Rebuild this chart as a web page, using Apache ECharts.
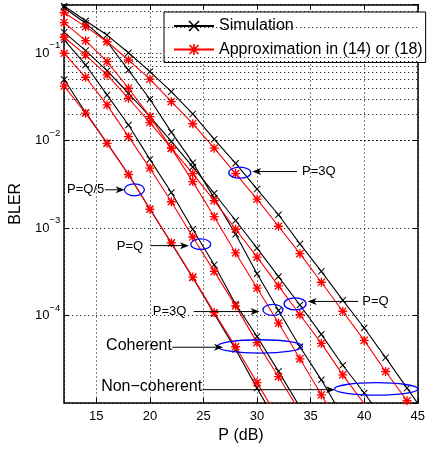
<!DOCTYPE html>
<html><head><meta charset="utf-8">
<script src="https://cdn.jsdelivr.net/npm/echarts@6/dist/echarts.min.js"></script>
<style>html,body{margin:0;padding:0;background:#fff}#c{width:428px;height:450px}</style>
</head><body><div id="c"></div>
<script>
// P (dB) sample points, every 2 dB (last entries continue just past the axis limits)
const snrDb = [12,14,16,18,20,22,24,26,28,30,32,34,36,38,40,42,44,46];

// Coherent, P=Q/5
const simCohQ5 = [0.05,0.021,0.0094,0.0041,1.65e-3,6.7e-4,2.7e-4,1.05e-4,4.1e-5,1.48e-5,5.5e-6];
const apxCohQ5 = [0.042,0.0206,0.0093,0.0041,1.64e-3,6.8e-4,2.75e-4,1.08e-4,4.4e-5,1.71e-5,6.6e-6];
// Coherent, P=Q
const simCohQ = [0.142,0.0733,0.0333,0.0151,6.1e-3,2.55e-3,9.7e-4,3.8e-4,1.35e-4,5.75e-5,2.3e-5,9e-6];
const apxCohQ = [0.0997,0.053,0.0256,0.0111,4.84e-3,2.0e-3,7.9e-4,3.2e-4,1.29e-4,4.9e-5,2.0e-5,8e-6];
// Coherent, P=3Q
const simCoh3Q = [0.33,0.22,0.135,0.064,0.0297,0.0125,5.6e-3,2.2e-3,8.5e-4,3.0e-4,1.14e-4,4.4e-5,1.84e-5,7e-6];
const apxCoh3Q = [0.223,0.139,0.08,0.0397,0.0188,8.2e-3,3.4e-3,1.35e-3,5.2e-4,2.06e-4,8.2e-5,3.2e-5,1.24e-5,4.8e-6];
// Non-coherent, P=Q
const simNcQ = [0.173,0.107,0.063,0.0348,0.0188,9.8e-3,5.0e-3,2.5e-3,1.22e-3,5.9e-4,2.79e-4,1.32e-4,6.1e-5,2.7e-5,1.3e-5,6e-6];
const apxNcQ = [0.152,0.095,0.0564,0.0305,0.0161,8.2e-3,4.2e-3,2.06e-3,9.7e-4,4.65e-4,2.18e-4,1.02e-4,4.8e-5,2.1e-5,9.8e-6,4.5e-6];
// Non-coherent, P=3Q
const simNc3Q = [0.346,0.235,0.161,0.101,0.0615,0.0363,0.0202,0.0104,5.5e-3,2.79e-3,1.42e-3,6.6e-4,3.2e-4,1.5e-4,7.2e-5,3.3e-5,1.48e-5,6.6e-6];
const apxNc3Q = [0.29,0.201,0.135,0.0836,0.0504,0.0279,0.0156,8.2e-3,4.2e-3,2.14e-3,1.05e-3,5.1e-4,2.4e-4,1.12e-4,5.2e-5,2.29e-5,1.06e-5,4.8e-6];

const simName = 'Simulation';
const apxName = 'Approximation in (14) or (18)';

// axis
const xMin = 12, xMax = 45;
const yMin = 1e-5, yMax = 0.36;
const minorGrid = [];
[-5,-4,-3,-2,-1].forEach(e => { for (let m = 2; m <= 9; m++) { const v = m * Math.pow(10, e); if (v < yMax) minorGrid.push(v); } });

// annotations (data coordinates)
const annoText   = ['P=3Q', 'P=Q/5', 'P=Q', 'P=3Q', 'Coherent', 'Non\u2212coherent', 'P=Q'];
const annoTextX  = [34.2, 12.27, 16.91, 20.27, 15.91, 15.45, 39.82];
const annoTextY  = [4.43e-3, 2.74e-3, 6.15e-4, 1.11e-4, 4.54e-5, 1.55e-5, 1.45e-4];
const arrowTailX = [33.73, 15.82, 20.09, 24.09, 22.09, 24.91, 39.45];
const arrowHeadX = [29.55, 17.64, 23.64, 30.23, 26.82, 37.27, 34.73];
const arrowY     = [4.43e-3, 2.74e-3, 6.3e-4, 1.11e-4, 4.34e-5, 1.42e-5, 1.45e-4];
const ellX       = [28.39, 18.55, 24.75, 31.48, 30.27, 41.12, 33.55];
const ellY       = [4.3e-3, 2.74e-3, 6.54e-4, 1.16e-4, 4.43e-5, 1.45e-5, 1.36e-4];
// styles for annotations
const ellRx = [11, 10, 10, 10, 42.5, 41.7, 11];
const ellRy = [5.5, 6, 5.3, 5.5, 6.7, 6.2, 6];
const annoFont = [13, 13, 13, 13, 16, 16, 13];

const FONT = '"Liberation Sans", Arial, Helvetica, sans-serif';
const xMarker = 'path://M1,0L5,4L9,0L10,1L6,5L10,9L9,10L5,6L1,10L0,9L4,5L0,1Z';
const starMarker = 'path://M8.5,0H11.5V20H8.5Z M0,8.5H20V11.5H0Z M0.94,3.06L3.06,0.94L19.06,16.94L16.94,19.06Z M16.94,0.94L19.06,3.06L3.06,19.06L0.94,16.94Z';

function pairs(arr) { return arr.map((v, i) => [snrDb[i], v]); }
function simSeries(arr) {
  return { type: 'line', name: simName, data: pairs(arr), symbol: xMarker, symbolSize: 7,
    lineStyle: { color: '#000', width: 1.1 }, itemStyle: { color: '#000' }, z: 3, clip: true };
}
function apxSeries(arr) {
  return { type: 'line', name: apxName, data: pairs(arr), symbol: starMarker, symbolSize: 9,
    lineStyle: { color: '#ff0000', width: 1.1 }, itemStyle: { color: '#ff0000' }, z: 4, clip: true };
}

function supLabel(v) {
  const e = Math.log10(v);
  const r = Math.round(e);
  if (Math.abs(e - r) > 1e-6) return '';
  return '{b|10}{s|' + (r < 0 ? '\u2212' : '') + Math.abs(r) + '}';
}

const chart = echarts.init(document.getElementById('c'), null, { renderer: 'canvas' });
const gridDash = { type: [1, 3], color: '#000', width: 1 };

chart.setOption({
  animation: false,
  backgroundColor: '#fff',
  textStyle: { fontFamily: FONT },
  grid: { left: 59, right: 6, top: 4.5, bottom: 47, containLabel: false },
  legend: {
    data: [simName, apxName], orient: 'vertical', left: 164, top: 12,
    backgroundColor: '#fff', borderColor: '#000', borderWidth: 1,
    padding: [6, 3, 5, 9], itemWidth: 40, itemHeight: 14, itemGap: 7.5,
    textStyle: { fontSize: 16, color: '#000', fontFamily: FONT }, selectedMode: false
  },
  xAxis: [{
    type: 'value', min: xMin, max: xMax, splitNumber: 7,
    name: 'P (dB)', nameLocation: 'middle', nameGap: 24,
    nameTextStyle: { fontSize: 16, color: '#000', fontFamily: FONT },
    axisLine: { show: true, onZero: false, lineStyle: { color: '#000', width: 1.5 } },
    axisTick: { inside: true, length: 5, lineStyle: { color: '#000', width: 1 } },
    axisLabel: { showMinLabel: false, fontSize: 13, color: '#000', margin: 7, fontFamily: FONT },
    splitLine: { show: true, lineStyle: gridDash }
  }, {
    type: 'value', min: xMin, max: xMax, splitNumber: 7, position: 'top',
    axisLine: { show: true, onZero: false, lineStyle: { color: '#000', width: 1.5 } },
    axisTick: { inside: true, length: 5, lineStyle: { color: '#000', width: 1 } },
    axisLabel: { show: false }, splitLine: { show: false }
  }],
  yAxis: [{
    type: 'log', logBase: 10, min: yMin, max: yMax,
    name: 'BLER', nameLocation: 'middle', nameGap: 31,
    nameTextStyle: { fontSize: 16, color: '#000', fontFamily: FONT },
    axisLine: { show: true, onZero: false, lineStyle: { color: '#000', width: 1.5 } },
    axisTick: { inside: true, length: 5, lineStyle: { color: '#000', width: 1 } },
    axisLabel: {
      showMinLabel: false, showMaxLabel: false, margin: 4, formatter: supLabel,
      rich: {
        b: { fontSize: 13, color: '#000', fontFamily: FONT },
        s: { fontSize: 9.5, color: '#000', fontFamily: FONT, padding: [0, 0, 15, 0] }
      }
    },
    splitLine: { show: true, lineStyle: gridDash }
  }, {
    type: 'log', logBase: 10, min: yMin, max: yMax, position: 'right',
    axisLine: { show: true, onZero: false, lineStyle: { color: '#000', width: 1.5 } },
    axisTick: { inside: true, length: 5, lineStyle: { color: '#000', width: 1 } },
    axisLabel: { show: false }, splitLine: { show: false }
  }],
  series: [
    { type: 'line', name: 'grid', data: [], silent: true, z: 1,
      markLine: { silent: true, symbol: ['none', 'none'], animation: false,
        label: { show: false }, lineStyle: gridDash, emphasis: { disabled: true },
        data: minorGrid.map(v => ({ yAxis: v })) } },
    simSeries(simCohQ5), simSeries(simCohQ), simSeries(simCoh3Q), simSeries(simNcQ), simSeries(simNc3Q),
    apxSeries(apxCohQ5), apxSeries(apxCohQ), apxSeries(apxCoh3Q), apxSeries(apxNcQ), apxSeries(apxNc3Q),
    {
      type: 'custom', name: 'annotations', silent: true, z: 6, clip: false,
      data: ellX.map((x, i) => [x, ellY[i]]),
      renderItem: function (params, api) {
        const i = params.dataIndex;
        const c = api.coord([ellX[i], ellY[i]]);
        const t = api.coord([annoTextX[i], annoTextY[i]]);
        const a0 = api.coord([arrowTailX[i], arrowY[i]]);
        const a1 = api.coord([arrowHeadX[i], arrowY[i]]);
        const dir = a1[0] > a0[0] ? 1 : -1;
        const hx = a1[0], hy = a1[1];
        return { type: 'group', children: [
          { type: 'ellipse', shape: { cx: c[0], cy: c[1], rx: ellRx[i], ry: ellRy[i] },
            style: { fill: null, stroke: '#0000ff', lineWidth: 1.3 } },
          { type: 'line', shape: { x1: a0[0], y1: a0[1], x2: hx - dir * 6, y2: hy },
            style: { stroke: '#000', lineWidth: 1 } },
          { type: 'polygon', shape: { points: [[hx, hy], [hx - dir * 9, hy - 3.5], [hx - dir * 6.5, hy], [hx - dir * 9, hy + 3.5]] },
            style: { fill: '#000' } },
          { type: 'text', style: { text: annoText[i], x: t[0], y: t[1], fill: '#000',
            font: annoFont[i] + 'px ' + FONT, align: 'left', verticalAlign: 'middle' } }
        ] };
      }
    }
  ]
});
</script>
</body></html>
